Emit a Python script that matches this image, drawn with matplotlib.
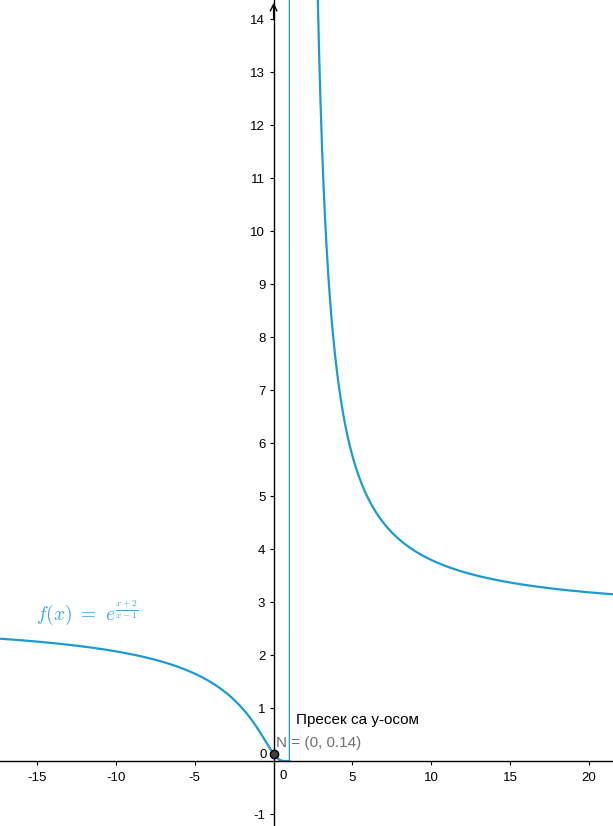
import numpy as np
import matplotlib
matplotlib.use("Agg")
import matplotlib.pyplot as plt

plt.rcParams['font.family'] = ['Liberation Sans', 'DejaVu Sans']
plt.rcParams['mathtext.fontset'] = 'cm'

### Data ###
x_ticks = [-15, -10, -5, 5, 10, 15, 20]
y_ticks = [-1, 1, 2, 3, 4, 5, 6, 7, 8, 9, 10, 11, 12, 13, 14]
point_N = (0, 0.14)
label_N = "N = (0, 0.14)"
label_note = "Пресек са y-осом"
formula = r'$f(x)\ =\ e^{\frac{x+2}{x-1}}$'

xmin, xmax = -17.35, 21.52
ymin, ymax = -1.226, 14.36

def f(x):
    return np.exp((x + 2) / (x - 1))

xs = np.linspace(xmin, xmax, 4001)
x_left = xs[xs < 1 - 1e-9]
x_right = xs[xs > 1 + 1e-9]
y_left = f(x_left)
y_right = np.clip(f(x_right), None, 100)
### End Data ###

curve_col = '#1a9bd1'

fig = plt.figure(figsize=(6.13, 8.26), dpi=100)
ax = fig.add_axes([0, 0, 1, 1])
ax.set_xlim(xmin, xmax)
ax.set_ylim(ymin, ymax)

ax.plot(x_left, y_left, color=curve_col, lw=1.6, solid_joinstyle='round')
ax.plot(x_right, y_right, color=curve_col, lw=1.6, solid_joinstyle='round')
# joining stroke across the asymptote (thin, like GeoGebra draws it)
ax.plot([x_left[-1], x_right[0]], [y_left[-1], y_right[0]], color=curve_col, lw=0.9)

# axes through the origin
for s in ('top', 'right'):
    ax.spines[s].set_visible(False)
ax.spines['left'].set_position(('data', 0))
ax.spines['bottom'].set_position(('data', 0))
ax.spines['left'].set_linewidth(1.0)
ax.spines['bottom'].set_linewidth(1.0)

ax.set_xticks(x_ticks)
ax.set_xticklabels([str(t) for t in x_ticks])
ax.set_yticks(y_ticks)
ax.set_yticklabels([str(t) for t in y_ticks])
ax.tick_params(axis='x', direction='out', length=3, width=0.8, labelsize=9.5, pad=5)
ax.tick_params(axis='y', direction='out', length=3, width=0.8, labelsize=9.5, pad=3)

# zero labels
ax.text(0.35, -0.17, "0", fontsize=9.5, ha='left', va='top')
ax.text(-0.45, 0.11, "0", fontsize=9.5, ha='right', va='center')

# arrow on y axis
ax.annotate('', xy=(0, ymax), xytext=(0, ymax - 0.4),
            arrowprops=dict(arrowstyle='->', lw=1.0, color='black', mutation_scale=12))

# point N
ax.plot([point_N[0]], [point_N[1]], 'o', color='#404040', markeredgecolor='black',
        markersize=6, zorder=5, clip_on=False)
ax.text(0.15, 0.2, label_N, fontsize=11, color='#707070', ha='left', va='bottom')
ax.text(1.4, 0.65, label_note, fontsize=11, color='black', ha='left', va='bottom')

# formula label
ax.text(-15.05, 2.66, formula, fontsize=14, color='#3aa8d8', ha='left', va='baseline')

fig.savefig("out.png", dpi=100)
